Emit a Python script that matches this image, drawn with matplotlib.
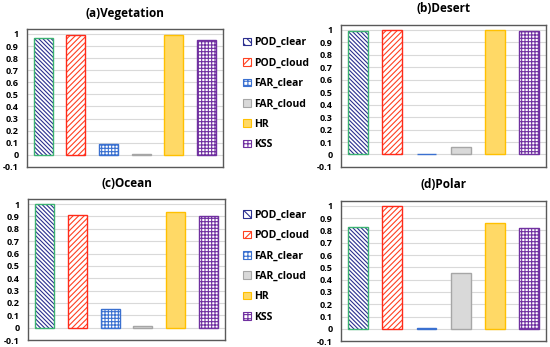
import numpy as np
import matplotlib.pyplot as plt
from matplotlib.patches import Patch

plt.rcParams['font.family'] = ['Open Sans', 'DejaVu Sans']
plt.rcParams['font.weight'] = 'bold'
plt.rcParams['hatch.linewidth'] = 0.8

# Данные
labels = ['POD_clear', 'POD_cloud', 'FAR_clear', 'FAR_cloud', 'HR', 'KSS']
titles = ['(a)Vegetation', '(b)Desert', '(c)Ocean', '(d)Polar']
vegetation = [0.97, 0.99, 0.09, 0.01, 0.99, 0.95]
desert = [0.995, 1.0, 0.005, 0.06, 1.0, 0.99]
ocean = [1.0, 0.91, 0.15, 0.01, 0.94, 0.90]
polar = [0.83, 1.0, 0.005, 0.45, 0.86, 0.82]
ticks = np.round(np.arange(-0.1, 1.01, 0.1), 1)

# стиль каждой серии: заливка, цвет штриховки, штриховка, рамка
styles = [
    ('white', '#2B2F8F', '\\' * 8, '#3CB371'),
    ('white', '#FF4020', '//////', '#FF2A1A'),
    ('white', '#3A70D0', '+++++', '#3A70D0'),
    ('#D9D9D9', None, '', '#A6A6A6'),
    ('#FFD966', None, '', '#FFC000'),
    ('white', '#7030A0', '+++++', '#7030A0'),
]

fig = plt.figure(figsize=(5.5, 3.47), dpi=100)
positions = [
    [0.049, 0.519, 0.356, 0.397],
    [0.620, 0.519, 0.373, 0.409],
    [0.051, 0.020, 0.358, 0.406],
    [0.620, 0.017, 0.373, 0.404],
]
data = [vegetation, desert, ocean, polar]
x = np.arange(len(labels))

for pos, vals, title in zip(positions, data, titles):
    ax = fig.add_axes(pos)
    for i, v in enumerate(vals):
        fc, hc, hatch, ec = styles[i]
        if hatch:
            ax.bar(x[i], v, 0.58, color=fc, hatch=hatch, edgecolor=hc,
                   linewidth=0, zorder=2)
        else:
            ax.bar(x[i], v, 0.58, color=fc, linewidth=0, zorder=2)
        ax.bar(x[i], v, 0.58, fill=False, edgecolor=ec, linewidth=1.0, zorder=3)
    ax.set_xlim(-0.5, 5.5)
    ax.set_ylim(-0.1, 1.04)
    ax.set_yticks(ticks)
    ax.set_yticklabels([f'{t:g}' for t in ticks], fontsize=6.5, fontweight='bold')
    ax.set_xticks([])
    ax.tick_params(axis='y', length=0, pad=6)
    ax.grid(axis='y', color='#D9D9D9', linewidth=0.8, zorder=0)
    for s in ax.spines.values():
        s.set_color('#595959')
        s.set_linewidth(1.0)
    ax.set_title(title, fontsize=8.5, fontweight='bold', pad=9)

# Легенды
handles = []
for fc, hc, hatch, ec in styles:
    if hatch:
        handles.append(Patch(facecolor=fc, hatch=hatch[:4], edgecolor=hc, linewidth=0.8))
    else:
        handles.append(Patch(facecolor=fc, edgecolor=ec, linewidth=0.8))

for yc in [0.73, 0.233]:
    fig.legend(handles, labels, loc='center left', bbox_to_anchor=(0.425, yc),
               frameon=False, labelspacing=0.9,
               handlelength=0.75, handleheight=0.75, handletextpad=0.35,
               prop={'weight': 'bold', 'size': 7.5})

fig.savefig('out.png', dpi=100)
